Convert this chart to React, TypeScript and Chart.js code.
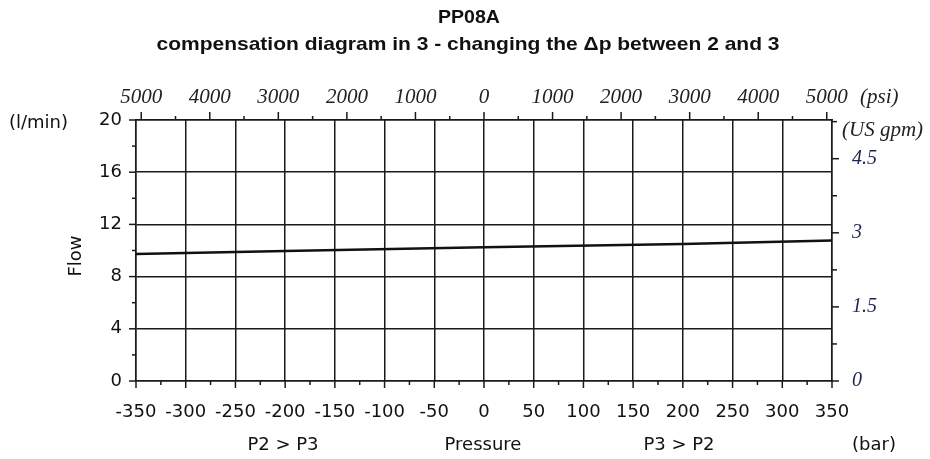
import React, { useEffect, useRef } from 'react';
import { Chart, registerables } from 'chart.js';

Chart.register(...registerables);

// Data
const pressureBar = [-350, -200, 0, 200, 350];
const flowLpm = [9.73, 9.96, 10.25, 10.5, 10.76];

// Tick values
const barTicks = [-350, -300, -250, -200, -150, -100, -50, 0, 50, 100, 150, 200, 250, 300, 350];
const barMinorTicks = [-325, -275, -225, -175, -125, -75, -25, 25, 75, 125, 175, 225, 275, 325];
const flowTicks = [0, 4, 8, 12, 16, 20];
const flowMinorTicks = [2, 6, 10, 14, 18];
const psiTicks = [-5000, -4000, -3000, -2000, -1000, 0, 1000, 2000, 3000, 4000, 5000];
const psiMinorTicks = [-4500, -3500, -2500, -1500, -500, 500, 1500, 2500, 3500, 4500];
const gpmTicks = [0, 1.5, 3, 4.5];
const gpmMinorTicks = [0.75, 2.25, 3.75, 5.25];

const PSI_PER_BAR = 14.5038;
const GPM_PER_LPM = 0.264172;

const titleText = 'PP08A';
const subtitleText = 'compensation diagram in 3 - changing the \u0394p between 2 and 3';

const INK = '#1a1a1a';
const SANS = '"DejaVu Sans", Verdana, sans-serif';
const SERIF = '"Liberation Serif", "Times New Roman", serif';

export default function App() {
  const ref = useRef<HTMLCanvasElement | null>(null);

  useEffect(() => {
    document.body.style.margin = '0';
    const canvas = ref.current;
    if (!canvas) return;

    const extras = {
      id: 'extras',
      afterDraw(chart: any) {
        const { ctx, chartArea, scales } = chart;
        const { left, right, top, bottom } = chartArea;
        ctx.save();
        ctx.strokeStyle = INK;
        ctx.lineWidth = 1.5;
        const line = (x1: number, y1: number, x2: number, y2: number) => {
          ctx.beginPath();
          ctx.moveTo(x1, y1);
          ctx.lineTo(x2, y2);
          ctx.stroke();
        };
        barTicks.forEach(v => { const p = scales.x.getPixelForValue(v); line(p, bottom, p, bottom + 7); });
        barMinorTicks.forEach(v => { const p = scales.x.getPixelForValue(v); line(p, bottom, p, bottom + 4); });
        flowTicks.forEach(v => { const p = scales.y.getPixelForValue(v); line(left - 7, p, left, p); });
        flowMinorTicks.forEach(v => { const p = scales.y.getPixelForValue(v); line(left - 4, p, left, p); });
        psiTicks.forEach(v => { const p = scales.x2.getPixelForValue(v); line(p, top - 8, p, top); });
        psiMinorTicks.forEach(v => { const p = scales.x2.getPixelForValue(v); line(p, top - 4, p, top); });
        gpmTicks.forEach(v => { const p = scales.y2.getPixelForValue(v); line(right, p, right + 7, p); });
        gpmMinorTicks.forEach(v => { const p = scales.y2.getPixelForValue(v); line(right, p, right + 5, p); });

        ctx.fillStyle = '#111';
        ctx.textBaseline = 'middle';
        ctx.textAlign = 'center';
        const stretched = (text: string, cx: number, cy: number, targetW: number) => {
          const w = ctx.measureText(text).width;
          const k = targetW / w;
          ctx.save();
          ctx.translate(cx, cy);
          ctx.scale(k, 1);
          ctx.fillText(text, 0, 0);
          ctx.restore();
        };
        ctx.font = 'bold 19px "Liberation Sans", Arial, sans-serif';
        stretched(titleText, 469, 18, 62);
        stretched(subtitleText, 468, 45, 623);

        ctx.font = '18px ' + SANS;
        ctx.textAlign = 'left';
        ctx.fillText('(l/min)', 9, 123);
        ctx.textAlign = 'center';
        ctx.fillText('P2 > P3', 283, 445);
        ctx.fillText('Pressure', 483, 445);
        ctx.fillText('P3 > P2', 679, 445);
        ctx.fillText('(bar)', 874, 445);

        ctx.save();
        ctx.translate(76, 256);
        ctx.rotate(-Math.PI / 2);
        ctx.fillText('Flow', 0, 0);
        ctx.restore();

        ctx.font = 'italic 21px ' + SERIF;
        ctx.fillStyle = '#222';
        ctx.textAlign = 'left';
        ctx.fillText('(psi)', 860, 97);
        ctx.fillText('(US gpm)', 842, 130);
        ctx.restore();
      },
    };

    const chart = new Chart(canvas, {
      type: 'line',
      data: {
        datasets: [
          {
            data: pressureBar.map((x, i) => ({ x, y: flowLpm[i] })),
            borderColor: '#111',
            borderWidth: 2.5,
            pointRadius: 0,
            tension: 0,
            xAxisID: 'x',
            yAxisID: 'y',
          },
        ],
      },
      options: {
        responsive: false,
        animation: false,
        layout: { padding: 0 },
        plugins: { legend: { display: false }, tooltip: { enabled: false }, title: { display: false } },
        scales: {
          x: {
            type: 'linear',
            position: 'bottom',
            min: -350,
            max: 350,
            afterBuildTicks: (s: any) => { s.ticks = barTicks.map(v => ({ value: v })); },
            afterFit: (s: any) => { s.height = 78; },
            grid: { color: INK, lineWidth: 1.5, drawTicks: false },
            border: { display: true, color: INK, width: 1.5 },
            ticks: {
              font: { family: SANS, size: 18 },
              color: '#111',
              padding: 21,
              maxRotation: 0,
              autoSkip: false,
              callback: (v: any) => String(v),
            },
          },
          x2: {
            type: 'linear',
            position: 'top',
            min: -350 * PSI_PER_BAR,
            max: 350 * PSI_PER_BAR,
            afterBuildTicks: (s: any) => { s.ticks = psiTicks.map(v => ({ value: v })); },
            afterFit: (s: any) => { s.height = 120; },
            grid: { display: false, drawTicks: false },
            border: { display: true, color: INK, width: 1.5 },
            ticks: {
              font: { family: SERIF, size: 21, style: 'italic' },
              color: '#222',
              padding: 10,
              maxRotation: 0,
              autoSkip: false,
              callback: (v: any) => String(Math.abs(Number(v))),
            },
          },
          y: {
            type: 'linear',
            position: 'left',
            min: 0,
            max: 20,
            afterBuildTicks: (s: any) => { s.ticks = flowTicks.map(v => ({ value: v })); },
            afterFit: (s: any) => { s.width = 136; },
            grid: { color: INK, lineWidth: 1.5, drawTicks: false },
            border: { display: true, color: INK, width: 1.5 },
            ticks: {
              font: { family: SANS, size: 18 },
              color: '#111',
              padding: 14,
              callback: (v: any) => String(v),
            },
          },
          y2: {
            type: 'linear',
            position: 'right',
            min: 0,
            max: 20 * GPM_PER_LPM,
            afterBuildTicks: (s: any) => { s.ticks = gpmTicks.map(v => ({ value: v })); },
            afterFit: (s: any) => { s.width = 98; },
            grid: { display: false, drawTicks: false },
            border: { display: true, color: INK, width: 1.5 },
            ticks: {
              font: { family: SERIF, size: 20, style: 'italic' },
              color: '#1c2550',
              padding: 20,
              callback: (v: any) => String(v),
            },
          },
        },
      },
      plugins: [extras],
    } as any);

    return () => chart.destroy();
  }, []);

  return (
    <div style={{ width: 930, height: 459 }}>
      <canvas ref={ref} width={930} height={459} />
    </div>
  );
}
